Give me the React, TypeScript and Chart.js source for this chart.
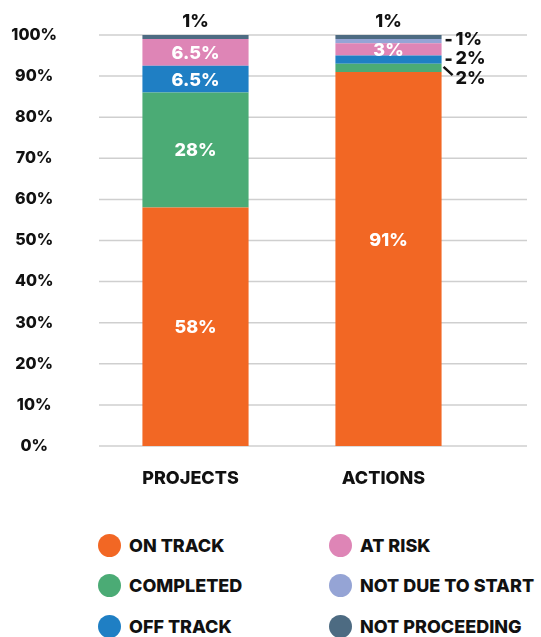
import React, { useEffect, useRef } from "react";
import { Chart, registerables } from "chart.js";

Chart.register(...registerables);

const FONT = "Inter, 'Noto Sans', sans-serif";
const WEIGHT = 800;

const CATEGORIES = ["PROJECTS", "ACTIONS"];
const SERIES_NAMES = [
  "ON TRACK",
  "COMPLETED",
  "OFF TRACK",
  "AT RISK",
  "NOT DUE TO START",
  "NOT PROCEEDING",
];
const ON_TRACK = [58, 91];
const COMPLETED = [28, 2];
const OFF_TRACK = [6.5, 2];
const AT_RISK = [6.5, 3];
const NOT_DUE_TO_START = [0, 1];
const NOT_PROCEEDING = [1, 1];
const SERIES_VALUES = [ON_TRACK, COMPLETED, OFF_TRACK, AT_RISK, NOT_DUE_TO_START, NOT_PROCEEDING];
const SERIES_COLORS = ["#F26724", "#4BAB75", "#1F7FC4", "#DE85B6", "#95A4D5", "#4D6B82"];
const Y_MIN = 0;
const Y_MAX = 100;
const Y_STEP = 10;

const GRID_EXTEND = 42;
const MAX_LABEL_DEPTH = 168;

const gridPlugin = {
  id: "extGrid",
  beforeDatasetsDraw(chart: any) {
    const { ctx, chartArea, scales } = chart;
    const ys = scales.y;
    ctx.save();
    ctx.strokeStyle = "#cfcfcf";
    ctx.lineWidth = 1.5;
    ys.ticks.forEach((t: any) => {
      const y = ys.getPixelForValue(t.value);
      ctx.beginPath();
      ctx.moveTo(chartArea.left, y);
      ctx.lineTo(chartArea.right + GRID_EXTEND, y);
      ctx.stroke();
    });
    ctx.restore();
  },
};

const labelPlugin = {
  id: "segLabels",
  afterDatasetsDraw(chart: any) {
    const { ctx } = chart;
    const n = chart.data.datasets.length;
    ctx.save();
    ctx.font = `${WEIGHT} 18px ${FONT}`;
    ctx.textBaseline = "middle";
    for (let i = 0; i < chart.data.labels.length; i++) {
      let lastSideY = -Infinity;
      for (let d = n - 1; d >= 0; d--) {
        const v = chart.data.datasets[d].data[i];
        if (!v) continue;
        const bar: any = chart.getDatasetMeta(d).data[i];
        const top = Math.min(bar.y, bar.base);
        const bottom = Math.max(bar.y, bar.base);
        const cy = (top + bottom) / 2;
        const text = v + "%";
        if (d === n - 1) {
          ctx.fillStyle = "#111";
          ctx.textAlign = "center";
          ctx.fillText(text, bar.x, top - 13);
        } else if (v >= 3) {
          ctx.fillStyle = "#fff";
          ctx.textAlign = "center";
          ctx.fillText(text, bar.x, Math.min(cy, top + MAX_LABEL_DEPTH) + 1);
        } else {
          const right = bar.x + bar.width / 2;
          const ly = Math.max(cy - 2, lastSideY + 19.5);
          lastSideY = ly;
          ctx.strokeStyle = "#111";
          ctx.lineWidth = 2.5;
          ctx.beginPath();
          if (ly - (cy - 2) < 3) {
            ctx.moveTo(right + 4, ly + 1);
            ctx.lineTo(right + 10, ly + 1);
          } else {
            ctx.moveTo(right + 2, cy - 1);
            ctx.lineTo(right + 11, ly - 3);
          }
          ctx.stroke();
          ctx.fillStyle = "#111";
          ctx.textAlign = "left";
          ctx.fillText(text, right + 14, ly);
        }
      }
    }
    ctx.restore();
  },
};

export default function App() {
  const ref = useRef<HTMLCanvasElement | null>(null);

  useEffect(() => {
    if (!ref.current) return;
    const chart = new Chart(ref.current, {
      type: "bar",
      data: {
        labels: CATEGORIES,
        datasets: SERIES_NAMES.map((name, k) => ({
          label: name,
          data: SERIES_VALUES[k],
          backgroundColor: SERIES_COLORS[k],
          borderWidth: 0,
          barPercentage: 0.55,
          categoryPercentage: 1,
        })),
      },
      options: {
        animation: false,
        responsive: false,
        maintainAspectRatio: false,
        layout: { padding: { left: 0, right: 56, top: 35, bottom: 0 } },
        plugins: {
          legend: { display: false },
          tooltip: { enabled: false },
        },
        scales: {
          x: {
            stacked: true,
            grid: { display: false, drawTicks: false },
            border: { display: false },
            ticks: {
              color: "#111",
              font: { family: FONT, size: 18, weight: WEIGHT },
              padding: 22,
              labelOffset: -5,
            },
            afterFit: (s: any) => {
              s.height = 59;
            },
          },
          y: {
            stacked: true,
            min: Y_MIN,
            max: Y_MAX,
            grid: { display: false, drawTicks: true, tickLength: 42 },
            border: { display: false },
            ticks: {
              stepSize: Y_STEP,
              color: "#111",
              font: { family: FONT, size: 16, weight: WEIGHT },
              crossAlign: "center",
              padding: 0,
              callback: (v: any) => v + "%",
            },
            afterFit: (s: any) => {
              s.width = 99;
            },
          },
        },
      },
      plugins: [gridPlugin, labelPlugin],
    });
    return () => chart.destroy();
  }, []);

  const legendItems = SERIES_NAMES.map((name, k) => ({ name, color: SERIES_COLORS[k] }));

  return (
    <div
      style={{
        position: "absolute",
        left: 0,
        top: 0,
        width: 541,
        height: 637,
        background: "#fff",
        fontFamily: FONT,
      }}
    >
      <canvas ref={ref} width={541} height={505} style={{ position: "absolute", left: 0, top: 0 }} />
      <div
        style={{
          position: "absolute",
          left: 98,
          top: 525,
          display: "grid",
          gridAutoFlow: "column",
          gridTemplateRows: "repeat(3, 40.5px)",
          gridTemplateColumns: "231px auto",
        }}
      >
        {legendItems.map((it) => (
          <div key={it.name} style={{ display: "flex", alignItems: "center" }}>
            <span
              style={{
                display: "inline-block",
                width: 23,
                height: 23,
                borderRadius: "50%",
                background: it.color,
                marginRight: 8,
                flex: "none",
              }}
            />
            <span style={{ fontWeight: WEIGHT, fontSize: 18, color: "#111", whiteSpace: "nowrap" }}>
              {it.name}
            </span>
          </div>
        ))}
      </div>
    </div>
  );
}
